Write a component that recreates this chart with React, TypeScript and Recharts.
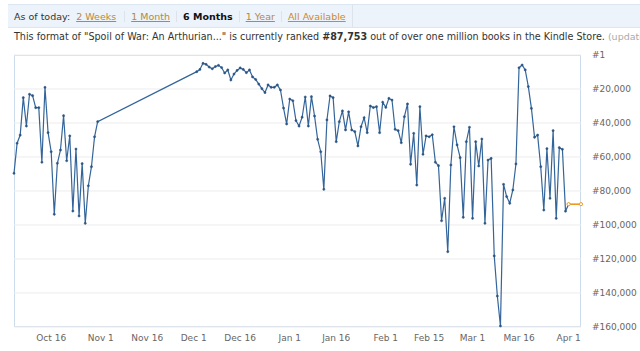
import React from 'react';
import { LineChart, Line, XAxis, YAxis, CartesianGrid } from 'recharts';

// day numbers count from Oct 1 (day 0); one reading per day
const octoberStartDay = 3; // Oct 4
const octoberRanks = [
  69600, 51900, 47100, 25100, 41800, 23100, 23900, 31000, 31000, 63100,
  19000, 45700, 56900, 93700, 63700, 55900, 35700, 62200, 47600, 91800,
  55300, 94700, 63900, 99000, 76900, 65700, 48100, 39200,
];

const winterStartDay = 62; // Dec 2
const winterRanks = [
  9800, 8500, 4900, 5500, 7100, 8100, 6800, 6100, 7400, 10600,
  8800, 14700, 11200, 9100, 7600, 8500, 10400, 8800, 12900, 14400,
  17100, 19800, 22100, 17600, 19000, 19000, 17600, 20600, 31200, 40600,
  25900, 26900, 38600, 41800, 36600, 24700, 41800, 24500, 35900, 49600,
  56900, 79000, 38200, 24100, 25100, 51000, 39200, 32900, 44100, 33400,
  44100, 45100, 53500, 42200, 36900, 45700, 30000, 30900, 30400, 45700,
  27800, 30800, 25500, 26500, 43700, 44500, 51600, 36300, 28800, 64300,
  46100, 76500, 30400, 58400, 47600, 48100, 46900, 63100, 65100, 97500,
  84300, 115700, 64700, 42200, 52900, 60400, 95500, 51000, 42500, 96100,
  51000, 65300, 49400, 99000, 61800, 60800, 118200, 141800, 159400, 76100,
  83300, 87200, 79400, 64100, 7500, 5900, 8800, 18600, 31400, 48400,
  47100, 65700, 91200, 55100, 84300, 44500, 96100, 54500, 55500, 91900,
  87753,
];

const currentDays = [182, 186];
const currentRank = 87753;

const tickDays = [15, 31, 46, 61, 76, 92, 107, 123, 137, 151, 166, 182];
const tickLabels = ['Oct 16', 'Nov 1', 'Nov 16', 'Dec 1', 'Dec 16', 'Jan 1', 'Jan 16', 'Feb 1', 'Feb 15', 'Mar 1', 'Mar 16', 'Apr 1'];
const rankTicks = [1, 20000, 40000, 60000, 80000, 100000, 120000, 140000, 160000];
const rankLabels = ['#1', '#20,000', '#40,000', '#60,000', '#80,000', '#100,000', '#120,000', '#140,000', '#160,000'];

const rows: Array<{ day: number; rank?: number; current?: number }> = [];
octoberRanks.forEach((r, i) => rows.push({ day: octoberStartDay + i, rank: r }));
winterRanks.forEach((r, i) => rows.push({ day: winterStartDay + i, rank: r }));
currentDays.forEach((d) => {
  const row = rows.find((x) => x.day === d);
  if (row) row.current = currentRank;
  else rows.push({ day: d, current: currentRank });
});

const font = '"DejaVu Sans", Verdana, sans-serif';
const linkStyle: React.CSSProperties = { color: '#b8873f', textDecoration: 'underline' };
const sep: React.CSSProperties = { borderLeft: '1px solid #dde3ea', padding: '0 6px' };

export default function App() {
  return (
    <div style={{ position: 'relative', width: 640, height: 351, overflow: 'hidden', background: '#fff', fontFamily: font }}>
      <style>{'body{margin:0}'}</style>
      <div
        style={{
          position: 'absolute', left: 8, right: 0, top: 4, height: 22,
          background: '#edf3fa', borderTop: '1px solid #dce6f1', borderBottom: '1px solid #dce6f1',
          display: 'flex', alignItems: 'center', fontSize: 9.5, color: '#333', paddingLeft: 6, whiteSpace: 'nowrap',
        }}
      >
        <span style={{ paddingRight: 6 }}>As of today:</span>
        <span style={{ ...linkStyle, paddingRight: 8 }}>2 Weeks</span>
        <span style={sep}><span style={linkStyle}>1 Month</span></span>
        <span style={{ ...sep, fontWeight: 'bold', color: '#111' }}>6 Months</span>
        <span style={sep}><span style={linkStyle}>1 Year</span></span>
        <span style={sep}><span style={{ ...linkStyle, color: '#cc8a2c' }}>All Available</span></span>
        <span style={{ ...sep, alignSelf: 'stretch' }} />
      </div>
      <div style={{ position: 'absolute', left: 14, top: 31, fontSize: 9.6, color: '#333', whiteSpace: 'nowrap' }}>
        This format of "Spoil of War: An Arthurian..." is currently ranked <b>#87,753</b> out of over one million books in the Kindle Store.{' '}
        <span style={{ color: '#aaa', fontSize: 9.5 }}>(update)</span>
      </div>

      <div style={{ position: 'absolute', left: 14, top: 55, width: 567, height: 272, boxSizing: 'border-box', border: '1px solid #cddcec' }} />

      <div style={{ position: 'absolute', left: 0, top: 0 }}>
        <LineChart width={640} height={351} data={rows} margin={{ top: 55, right: 0, bottom: 0, left: 14 }}>
          <CartesianGrid vertical={false} stroke="#ececec" />
          <XAxis
            type="number"
            dataKey="day"
            domain={[3, 186]}
            ticks={tickDays}
            interval={0}
            tickFormatter={(v: number) => tickLabels[tickDays.indexOf(v)]}
            axisLine={false}
            tickLine={false}
            height={24}
            tick={{ fontSize: 9, fill: '#666', fontFamily: font }}
          />
          <YAxis
            orientation="right"
            reversed
            domain={[1, 160000]}
            ticks={rankTicks}
            interval={0}
            tickFormatter={(v: number) => rankLabels[rankTicks.indexOf(v)]}
            axisLine={false}
            tickLine={false}
            tickMargin={5}
            width={59}
            tick={{ fontSize: 9, fill: '#666', fontFamily: font }}
          />
          <Line
            type="linear"
            dataKey="rank"
            stroke="#34659a"
            strokeWidth={1.2}
            dot={{ r: 1.1, fill: '#2a5582', stroke: '#2a5582', strokeWidth: 0.5 }}
            isAnimationActive={false}
          />
          <Line
            type="linear"
            dataKey="current"
            stroke="#ee9a1e"
            strokeWidth={1.6}
            connectNulls
            dot={{ r: 1.6, fill: '#fff', stroke: '#ee9a1e', strokeWidth: 1 }}
            isAnimationActive={false}
          />
        </LineChart>
      </div>
    </div>
  );
}
